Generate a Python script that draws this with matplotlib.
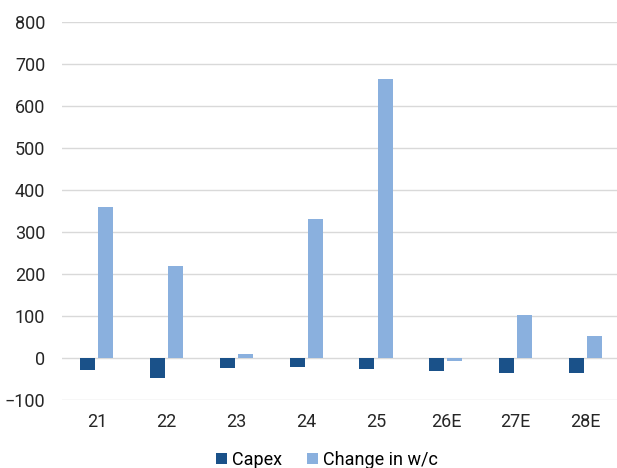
import numpy as np
import matplotlib
matplotlib.use("Agg")
import matplotlib.pyplot as plt

plt.rcParams['font.family'] = ['Roboto', 'DejaVu Sans']

years = ["21", "22", "23", "24", "25", "26E", "27E", "28E"]
capex = [-28, -47, -24, -21, -26, -31, -36, -36]
change_wc = [360, 219, 9, 330, 665, -7, 103, 53]

fig = plt.figure(figsize=(6.17, 4.68), dpi=100)
ax = fig.add_axes([0.1005, 0.145, 0.905, 0.808])

x = np.arange(len(years))
w = 0.215
ax.bar(x - 0.133, capex, w, color="#1A5189", label="Capex", zorder=3)
ax.bar(x + 0.13, change_wc, w, color="#8AB0DE", label="Change in w/c", zorder=3)

ax.set_ylim(-100, 800)
ax.set_yticks(range(-100, 801, 100))
ax.set_xlim(-0.5, len(years) - 0.5)
ax.set_xticks(x)
ax.set_xticklabels(years)
ax.grid(axis="y", color="#D9D9D9", linewidth=1, zorder=0)
for s in ax.spines.values():
    s.set_visible(False)
ax.tick_params(axis="both", length=0, labelsize=13, colors="#262626")
ax.tick_params(axis="y", pad=12)
ax.tick_params(axis="x", pad=9)

fig.legend(loc="lower center", bbox_to_anchor=(0.53, -0.036), ncol=2, frameon=False,
           fontsize=13, handlelength=0.6, handleheight=0.6, handletextpad=0.3,
           columnspacing=1.4)

fig.savefig("out.png", dpi=100)
